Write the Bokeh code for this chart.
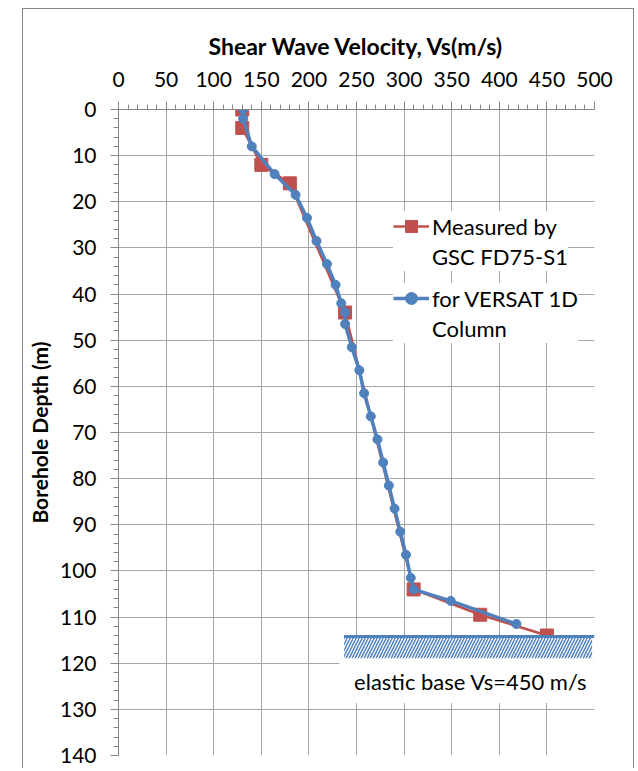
from bokeh.plotting import figure
from bokeh.models import Range1d, SingleIntervalTicker, Legend, LegendItem, Label
from bokeh.embed import file_html
from bokeh.resources import INLINE

# ---- data ----
measured_vs = [130, 130, 150, 180, 238, 310, 380, 450]
measured_depth = [0, 4, 12, 16, 44, 104, 109.5, 114]

versat_vs = [131, 131, 140, 164, 186, 198, 208, 219, 228, 234, 238, 238, 245,
             253, 258, 265, 272, 278, 284, 290, 296, 302, 307, 310, 349, 418]
versat_depth = [0, 2, 8, 14, 18.5, 23.5, 28.5, 33.5, 38, 42, 44, 46.5, 51.5,
                56.5, 61.5, 66.5, 71.5, 76.5, 81.5, 86.5, 91.5, 96.5, 101.5,
                104, 106.5, 111.5]

# elastic base annotation
base_depth = 114.2
base_vs_from = 237
base_vs_to = 500
base_hatch_to = 497.5
base_hatch_bottom = 118.9
base_box_from = 232
base_box_bottom = 128.6
base_text = "elastic base Vs=450 m/s"
base_text_vs = 370
base_text_depth = 124

x_title = "Shear Wave Velocity, Vs(m/s)"
y_title = "Borehole Depth (m)"
legend_measured = ["Measured by", "GSC FD75-S1"]
legend_versat = ["for VERSAT 1D", "Column"]

RED = "#C0504D"
BLUE = "#4F81BD"
GRID = "#A6A6A6"
AXIS = "#868686"
FONT = "Lato"

p = figure(width=612, height=760,
           x_range=Range1d(0, 500), y_range=Range1d(140, 0),
           x_axis_location="above",
           output_backend="svg", toolbar_location=None,
           min_border_left=94, min_border_right=41,
           min_border_top=100, min_border_bottom=14)
p.margin = (8, 0, 0, 22)
p.styles = {"border-left": "1px solid #868686",
            "border-top": "1px solid #868686",
            "border-right": "1px solid #868686"}
p.outline_line_color = None
p.background_fill_color = "white"
p.border_fill_color = "white"

# axes
xa = p.xaxis[0]
xa.ticker = SingleIntervalTicker(interval=50, num_minor_ticks=5)
ya = p.yaxis[0]
ya.ticker = SingleIntervalTicker(interval=10, num_minor_ticks=5)
for ax in (xa, ya):
    ax.axis_line_color = AXIS
    ax.major_tick_line_color = AXIS
    ax.minor_tick_line_color = AXIS
    ax.major_tick_out = 8
    ax.major_tick_in = 0
    ax.minor_tick_out = 5
    ax.minor_tick_in = 0
    ax.major_label_text_font = FONT
    ax.major_label_text_font_size = "21px"
    ax.major_label_text_color = "black"
    ax.axis_label_text_font = FONT
    ax.axis_label_text_font_style = "bold"
    ax.axis_label_text_color = "black"
xa.axis_label = x_title
ya.axis_label = y_title
xa.axis_label_text_font_size = "23px"
ya.axis_label_text_font_size = "21px"
xa.major_label_standoff = 15
ya.major_label_standoff = 14
xa.axis_label_standoff = 9
ya.axis_label_standoff = 5

p.xgrid.ticker = xa.ticker
p.ygrid.ticker = ya.ticker
p.grid.grid_line_color = GRID
p.grid.grid_line_width = 1

# series
m_line = p.line(measured_vs, measured_depth, line_color=RED, line_width=2.5)
m_pts = p.scatter(measured_vs, measured_depth, marker="square", size=13,
                  fill_color=RED, line_color=RED)
v_line = p.line(versat_vs, versat_depth, line_color=BLUE, line_width=3.5)
v_pts = p.scatter(versat_vs, versat_depth, marker="circle", size=9,
                  fill_color=BLUE, line_color=BLUE)

# elastic base
p.quad(left=[base_box_from], right=[base_vs_to], top=[base_depth],
       bottom=[base_box_bottom], fill_color="white", line_color=None)
p.quad(left=[base_vs_from], right=[base_hatch_to], top=[base_depth],
       bottom=[base_hatch_bottom], fill_color="white", line_color=None,
       hatch_pattern="/", hatch_color=BLUE, hatch_scale=6, hatch_weight=1.5)
p.line([base_vs_from, base_vs_to], [base_depth, base_depth],
       line_color=BLUE, line_width=3)
p.add_layout(Label(x=base_text_vs, y=base_text_depth, text=base_text,
                   text_align="center", text_baseline="middle",
                   text_font=FONT, text_font_size="22px", text_color="black"))


def make_legend(lines, renderers, loc):
    items = [LegendItem(label=lines[0], renderers=renderers),
             LegendItem(label=lines[1], renderers=[])]
    lg = Legend(items=items, location=loc)
    lg.label_text_font = FONT
    lg.label_text_font_size = "22px"
    lg.label_text_color = "black"
    lg.glyph_width = 36
    lg.glyph_height = 30
    lg.padding = 6
    lg.spacing = 0
    lg.label_standoff = 3
    lg.margin = 0
    lg.background_fill_color = "white"
    lg.background_fill_alpha = 1
    lg.border_line_color = None
    return lg


p.add_layout(make_legend(legend_measured, [m_line, m_pts], (275, 484)))
p.add_layout(make_legend(legend_versat, [v_line, v_pts], (275, 412)))

open("out.html", "w").write(file_html(p, INLINE))
